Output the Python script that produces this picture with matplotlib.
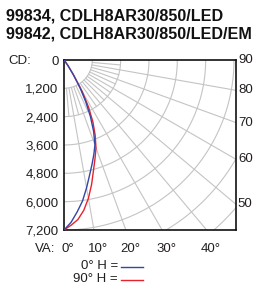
import numpy as np
import matplotlib
matplotlib.use("Agg")
import matplotlib.pyplot as plt

plt.rcParams['font.family'] = ['Liberation Sans', 'DejaVu Sans']

titulo = ["99834, CDLH8AR30/850/LED", "99842, CDLH8AR30/850/LED/EM"]

# angulo vertical (grados) y candelas
angulos = [0, 2.5, 5, 7.5, 10, 12.5, 15, 17.5, 20, 22.5, 25, 27.5, 30, 32.5, 35, 37.5, 40]
cd_0h = [7200, 6880, 6450, 6020, 5500, 5000, 4580, 4200, 3830, 3280, 2650, 2000,
         1350, 700, 300, 100, 0]
cd_90h = [7200, 7000, 6780, 6420, 5950, 5400, 4830, 4370, 3960, 3450, 2900, 2250,
          1550, 800, 330, 100, 0]

cd_ticks = [0, 1200, 2400, 3600, 4800, 6000, 7200]
cd_labels = ["0", "1,200", "2,400", "3,600", "4,800", "6,000", "7,200"]
va_ticks = [0, 10, 20, 30, 40]
va_labels = ["0°", "10°", "20°", "30°", "40°"]
ha_ticks = [90, 80, 70, 60, 50]

azul = "#3346a8"
rojo = "#e8222c"
gris = "#c4c4c4"
texto = "#231f20"

W, H = 254, 284
fig = plt.figure(figsize=(W / 100, H / 100), dpi=100)
ax = fig.add_axes([64 / W, 54 / H, 172 / W, 170 / H])
xmax = 7200 * 172 / 170
ax.set_xlim(0, xmax)
ax.set_ylim(7200, 0)

# rejilla: arcos y lineas radiales
t = np.radians(np.linspace(0, 90, 200))
for r in range(1200, 10800, 1200):
    ax.plot(r * np.sin(t), r * np.cos(t), color=gris, lw=0.8, zorder=1)
for a in range(10, 90, 10):
    ar = np.radians(a)
    ax.plot([1200 * np.sin(ar), 12000 * np.sin(ar)], [1200 * np.cos(ar), 12000 * np.cos(ar)],
            color=gris, lw=0.8, zorder=1)
for a in range(5, 90, 10):
    ar = np.radians(a)
    ax.plot([1200 * np.sin(ar), 2400 * np.sin(ar)], [1200 * np.cos(ar), 2400 * np.cos(ar)],
            color=gris, lw=0.8, zorder=1)

# curvas
for cd, col in [(cd_90h, rojo), (cd_0h, azul)]:
    th = np.radians(angulos)
    cd = np.array(cd)
    ax.plot(cd * np.sin(th), cd * np.cos(th), color=col, lw=1.0, zorder=3)

for s in ax.spines.values():
    s.set_linewidth(1.2)
    s.set_color("#111111")

ax.set_xticks([])
ax.set_yticks(cd_ticks)
ax.set_yticklabels(cd_labels, fontsize=9.5, color=texto)
ax.tick_params(axis="y", length=0, pad=4)

# etiquetas angulo horizontal en el borde derecho
for a in ha_ticks:
    y = 0 if a == 90 else xmax / np.tan(np.radians(a))
    ax.text(xmax + 80, y, str(a), fontsize=9.5, color=texto, ha="left", va="center",
            clip_on=False)

# etiquetas angulo vertical abajo
for a, lab in zip(va_ticks, va_labels):
    x = 7200 * np.tan(np.radians(a))
    ax.text(x + 180, 7200 + 800, lab, fontsize=9.5, color=texto, ha="center", va="center",
            clip_on=False)
fig.text(35 / W, 1 - 249 / H, "VA:", fontsize=9.5, color=texto, ha="left", va="center")
fig.text(8 / W, 1 - 61 / H, "CD:", fontsize=9.5, color=texto, ha="left", va="center")

# titulo
fig.text(6 / W, 1 - 16 / H, titulo[0], fontsize=11.6, fontweight="bold", color="#111111",
         ha="left", va="center")
fig.text(6 / W, 1 - 34 / H, titulo[1], fontsize=11.6, fontweight="bold", color="#111111",
         ha="left", va="center")

# leyenda
fig.text(118 / W, 1 - 266 / H, "0° H =", fontsize=9.5, color=texto, ha="right", va="center")
fig.text(118 / W, 1 - 279 / H, "90° H =", fontsize=9.5, color=texto, ha="right", va="center")
fig.add_artist(plt.Line2D([121 / W, 143 / W], [1 - 267 / H, 1 - 267 / H], color=azul, lw=1.0))
fig.add_artist(plt.Line2D([121 / W, 143 / W], [1 - 280 / H, 1 - 280 / H], color=rojo, lw=1.0))

fig.savefig("out.png", dpi=100)
